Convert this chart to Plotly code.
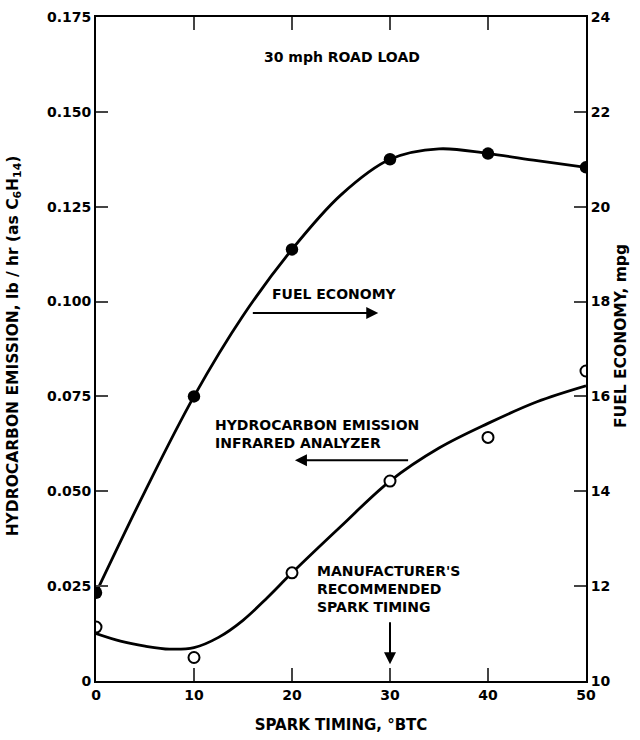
import plotly.graph_objects as go

# ---- data ----
spark_timing = [0, 10, 20, 30, 40, 50]
fuel_economy_mpg = [11.86, 16.0, 19.1, 21.0, 21.12, 20.83]
hc_emission = [0.0142, 0.0062, 0.0285, 0.0527, 0.0642, 0.0817]

fuel_curve_x = [0, 5, 10, 15, 20, 25, 30, 35, 40, 45, 50]
fuel_curve_y = [11.86, 14.0, 16.0, 17.7, 19.1, 20.25, 21.0, 21.22, 21.12, 20.97, 20.83]

hc_curve_x = [0, 2.5, 5, 7.5, 10, 12.5, 15, 17.5, 20, 25, 30, 35, 40, 45, 50]
hc_curve_y = [0.0125, 0.0105, 0.0092, 0.0084, 0.0088, 0.0115, 0.016, 0.022, 0.0285,
              0.0408, 0.0527, 0.0614, 0.0679, 0.0736, 0.0778]

x_ticks = [0, 10, 20, 30, 40, 50]
hc_ticks = [0, 0.025, 0.05, 0.075, 0.1, 0.125, 0.15, 0.175]
hc_tick_text = ["0", "0.025", "0.050", "0.075", "0.100", "0.125", "0.150", "0.175"]
mpg_ticks = [10, 12, 14, 16, 18, 20, 22, 24]

FONT = "DejaVu Sans"
BLACK = "#000000"

fig = go.Figure()

fig.add_trace(go.Scatter(x=fuel_curve_x, y=fuel_curve_y, yaxis="y2", mode="lines",
                         line=dict(color=BLACK, width=2.8, shape="spline", smoothing=1.0),
                         hoverinfo="skip", showlegend=False))
fig.add_trace(go.Scatter(x=spark_timing, y=fuel_economy_mpg, yaxis="y2", mode="markers",
                         marker=dict(size=12.5, color=BLACK), showlegend=False))
fig.add_trace(go.Scatter(x=hc_curve_x, y=hc_curve_y, mode="lines",
                         line=dict(color=BLACK, width=2.8, shape="spline", smoothing=1.0),
                         hoverinfo="skip", showlegend=False))
fig.add_trace(go.Scatter(x=spark_timing, y=hc_emission, mode="markers",
                         marker=dict(size=11, color="white", line=dict(color=BLACK, width=2)),
                         showlegend=False))

tickfont = dict(family=FONT, size=14, color=BLACK, weight="bold")

fig.update_layout(
    width=640, height=740,
    margin=dict(l=96, r=54, t=9, b=57),
    paper_bgcolor="white", plot_bgcolor="white",
    font=dict(family=FONT, size=14, color=BLACK),
    xaxis=dict(range=[0, 50], tickvals=x_ticks, ticks="inside", ticklen=13, tickwidth=2,
               showline=True, linewidth=2, linecolor=BLACK, mirror="ticks",
               showgrid=False, zeroline=False, tickfont=tickfont,
               title=dict(text="SPARK TIMING, °BTC", font=dict(family=FONT, size=15, color=BLACK, weight="bold"),
                          standoff=18)),
    yaxis=dict(range=[0, 0.175], tickvals=hc_ticks, ticktext=hc_tick_text,
               ticks="inside", ticklen=12, tickwidth=2,
               showline=True, linewidth=2, linecolor=BLACK, mirror=True,
               showgrid=False, zeroline=False, tickfont=tickfont),
    yaxis2=dict(range=[10, 24], tickvals=mpg_ticks, overlaying="y", side="right",
                ticks="inside", ticklen=12, tickwidth=2,
                showline=True, linewidth=2, linecolor=BLACK,
                showgrid=False, zeroline=False, tickfont=tickfont),
)

ann_font = dict(family=FONT, size=14, color=BLACK, weight="bold")
title_font = dict(family=FONT, size=15.5, color=BLACK, weight="bold")

# axis titles
fig.add_annotation(xref="paper", yref="paper", x=-0.168, y=0.505, textangle=-90,
                   text="HYDROCARBON EMISSION, lb / hr (as C<sub>6</sub>H<sub>14</sub>)",
                   showarrow=False, font=title_font, xanchor="center", yanchor="middle")
fig.add_annotation(xref="paper", yref="paper", x=1.07, y=0.52, textangle=-90,
                   text="FUEL ECONOMY, mpg", showarrow=False, font=title_font,
                   xanchor="center", yanchor="middle")

# text labels
fig.add_annotation(x=25.1, y=0.1645, text="30 mph ROAD LOAD", showarrow=False,
                   font=ann_font, xanchor="center", yanchor="middle")
fig.add_annotation(x=17.8, y=0.1019, text="FUEL ECONOMY", showarrow=False,
                   font=ann_font, xanchor="left", yanchor="middle")
fig.add_annotation(x=11.9, y=0.065, text="HYDROCARBON EMISSION<br>INFRARED ANALYZER",
                   showarrow=False, font=ann_font, xanchor="left", yanchor="middle", align="left")
fig.add_annotation(x=22.3, y=0.0242, text="MANUFACTURER'S<br>RECOMMENDED<br>SPARK TIMING",
                   showarrow=False, font=ann_font, xanchor="left", yanchor="middle", align="left")

# arrows
arrow_style = dict(xref="x", yref="y", axref="x", ayref="y", text="", showarrow=True,
                   arrowhead=2, arrowsize=1.2, arrowwidth=2, arrowcolor=BLACK)
fig.add_annotation(x=28.8, y=0.097, ax=15.85, ay=0.097, **arrow_style)
fig.add_annotation(x=20.3, y=0.0582, ax=32.0, ay=0.0582, **arrow_style)
fig.add_annotation(x=30, y=0.0044, ax=30, ay=0.0159, **arrow_style)

fig.write_html("out.html", config={"displayModeBar": False},
               post_script="document.body.style.margin='0';document.body.style.overflow='hidden';")
